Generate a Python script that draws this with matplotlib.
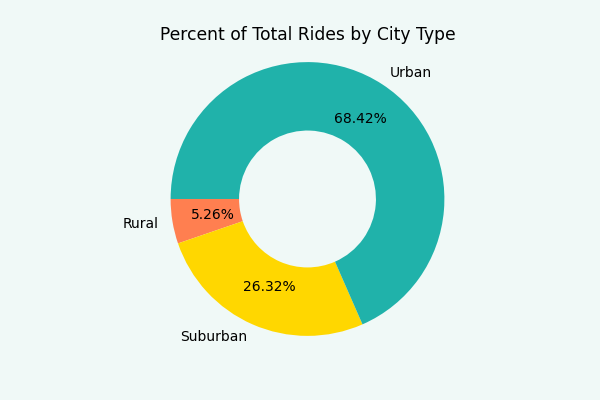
import matplotlib
matplotlib.use("Agg")
import matplotlib.pyplot as plt

city_types = ["Rural", "Suburban", "Urban"]
ride_pct = [5.26, 26.32, 68.42]
colours = ["coral", "gold", "lightseagreen"]

bg = "#f0f9f7"

fig = plt.figure(figsize=(6, 4), dpi=100, facecolor=bg)
ax = fig.add_subplot(111)
ax.set_facecolor(bg)

ax.pie(ride_pct, labels=city_types, colors=colours, autopct="%.2f%%",
       startangle=180, pctdistance=0.7, labeldistance=1.1,
       wedgeprops=dict(width=0.5))
ax.set_aspect("equal")
ax.set_xlim(-1.125 * 1.5, 1.125 * 1.5)
ax.set_ylim(-1.147, 1.103)
ax.set_title("Percent of Total Rides by City Type", fontsize=12.3)

plt.savefig("out.png", facecolor=bg)
